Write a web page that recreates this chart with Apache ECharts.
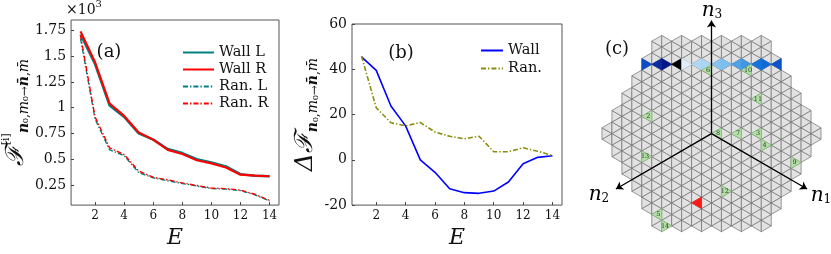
<!DOCTYPE html>
<html><head><meta charset="utf-8">
<script src="https://cdn.jsdelivr.net/npm/echarts@6/dist/echarts.min.js"></script>
<style>html,body{margin:0;padding:0;background:#fff}#c{width:831px;height:254px}</style>
</head><body><div id="c"></div>
<script>
// ---------- data ----------
const energies = [1,2,3,4,5,6,7,8,9,10,11,12,13,14];
const xTickValues = [2,4,6,8,10,12,14];
const yTicksA = [0.25,0.5,0.75,1,1.25,1.5,1.75];   // x10^3
const wallL = [1.71,1.42,1.02,0.91,0.75,0.69,0.60,0.56,0.50,0.47,0.43,0.355,0.34,0.335];
const wallR = [1.74,1.44,1.04,0.92,0.76,0.69,0.59,0.55,0.49,0.46,0.42,0.35,0.34,0.335];
const ranL  = [1.67,0.89,0.59,0.535,0.37,0.32,0.29,0.265,0.24,0.215,0.21,0.195,0.155,0.095];
const ranR  = [1.70,0.91,0.61,0.545,0.385,0.325,0.30,0.27,0.245,0.22,0.215,0.20,0.16,0.10];
const diffWall = [45.5,39.5,23.8,15,0,-5.5,-12.8,-14.5,-14.8,-13.8,-9.8,-1.7,1.1,1.8];
const diffRan  = [45.8,23,16.4,15,16.5,12.3,10.4,9.3,10.4,3.6,3.6,5.3,3.8,1.9];

// panel (c): triangular lattice (strip index k, centroid row Y)
const latticeColumns = 11;
const wallRowY = 6;
const wallStrips = [-7,-6,-5,-4,-3,-2,-1,0,1,2,3,4,5,6];
const wallLevels = [0.74,0.84,0.9,1.0,0.03,0.2,0.22,0.33,0.36,0.48,0.52,0.62,0.65,0.72];
const finalLabels = ['2','3','4','5','6','7','8','9','10','11','12','13','14'];
const finalStrips = [-7,4,5,-6,-1,2,0,8,3,4,1,-7,-5];
const finalRows   = [1.5,0,-1,-7,5.5,0,0,-2.5,5.5,3,-5,-2,-8];
const initialCell = [-2,-6];
const axisEnds = [[0,9.8],[9.6,-4.8],[-9.6,-4.8]];

// ---------- helpers ----------
const FONT = 'DejaVu Serif';
const S3 = Math.sqrt(3)/2;
function isRight(k, Y){ return (Math.abs(k)%2===1) === Number.isInteger(Y); }
function triPoints(k, Y){
  return isRight(k,Y) ? [[k,Y-0.5],[k,Y+0.5],[k+1,Y]] : [[k+1,Y-0.5],[k+1,Y+0.5],[k,Y]];
}
function centroid(k, Y){ return [k + (isRight(k,Y)?1/3:2/3), Y]; }
const AP = latticeColumns*0.75;
const latticeCells = [];
for (let k=-latticeColumns-1; k<=latticeColumns; k++){
  for (let y2=-20; y2<=20; y2++){
    const Y = y2/2;
    const cx = centroid(k,Y)[0]*S3;
    if (Math.abs(Y) <= AP && S3*Math.abs(cx) + Math.abs(Y)/2 <= AP) latticeCells.push([k,Y]);
  }
}
const stops = [[0,[232,244,251]],[0.2,[176,216,245]],[0.35,[128,192,240]],[0.5,[74,156,230]],
  [0.62,[20,116,220]],[0.72,[12,82,200]],[0.82,[10,48,168]],[0.9,[8,24,130]],[1,[0,0,0]]];
function blues(v){
  for (let i=1;i<stops.length;i++){
    if (v<=stops[i][0]){
      const [a,ca]=stops[i-1],[b,cb]=stops[i]; const t=(v-a)/(b-a);
      const c=ca.map((x,j)=>Math.round(x+(cb[j]-x)*t));
      return 'rgb('+c.join(',')+')';
    }
  }
  return '#000';
}
function polyItem(k,Y,api,fill,stroke,lw){
  return {type:'polygon', shape:{points:triPoints(k,Y).map(p=>api.coord(p))},
          style:{fill:fill, stroke:stroke, lineWidth:lw}};
}
const ser = (name,data,color,width,type,xi)=>({
  name, type:'line', data:energies.map((e,i)=>[e,data[i]]), xAxisIndex:xi, yAxisIndex:xi,
  symbol:'none', lineStyle:{color, width, type}, itemStyle:{color}, z: 3
});
const dashdot = [5,2,1.4,2];

const chart = echarts.init(document.getElementById('c'), null, {renderer:'canvas'});
const axisCommonX = (gi)=>({
  gridIndex:gi, type:'value', min:0.35, max:14.65,
  axisLine:{show:false, onZero:false}, splitLine:{show:false},
  axisTick:{show:true, inside:true, length:3, customValues:xTickValues, lineStyle:{color:'#444'}},
  axisLabel:{customValues:xTickValues, fontFamily:FONT, fontSize:12, color:'#111', margin:5},
  name:'E', nameLocation:'middle', nameGap:21,
  nameTextStyle:{fontFamily:FONT, fontStyle:'italic', fontSize:22, color:'#111'}
});
const subRich = {
  F:{fontFamily:FONT, fontSize:25, fontStyle:'italic', color:'#111', lineHeight:30},
  sp:{fontFamily:FONT, fontSize:11, color:'#111', verticalAlign:'top', lineHeight:30},
  bn:{fontFamily:FONT, fontSize:14, fontStyle:'italic', fontWeight:'bold', color:'#111', verticalAlign:'bottom', lineHeight:30},
  im:{fontFamily:FONT, fontSize:14, fontStyle:'italic', color:'#111', verticalAlign:'bottom', lineHeight:30},
  sb:{fontFamily:FONT, fontSize:12, color:'#111', verticalAlign:'bottom', lineHeight:30}
};
const legendCommon = {orient:'vertical', padding:0,
  itemStyle:{opacity:0, borderWidth:0, color:'rgba(0,0,0,0)'},
  textStyle:{fontFamily:FONT, fontSize:14.5, color:'#111', lineHeight:13}};

const option = {
  animation:false,
  backgroundColor:'#fff',
  grid:[
    {left:69, top:20, width:210, height:198, show:true, borderColor:'#555', borderWidth:1, backgroundColor:'transparent'},
    {left:352, top:24, width:210, height:193, show:true, borderColor:'#555', borderWidth:1, backgroundColor:'transparent'},
    {left:592, top:18.1, width:240, height:230.94, show:false}
  ],
  xAxis:[
    axisCommonX(0), axisCommonX(1),
    {gridIndex:2, type:'value', min:-12, max:12, show:false}
  ],
  yAxis:[
    {gridIndex:0, type:'value', min:0.055, max:1.85,
     axisLine:{show:false, onZero:false}, splitLine:{show:false},
     axisTick:{show:true, inside:true, length:3, customValues:yTicksA, lineStyle:{color:'#444'}},
     axisLabel:{customValues:yTicksA, fontFamily:FONT, fontSize:14, color:'#111', margin:5},
     name:'{F|ℱ}{sp|[i]}{bn|n}{sb|₀,}{im|m}{sb|₀→}{bn|n̄}{sb|,}{im|m̄}', nameLocation:'middle', nameGap:37,
     nameTextStyle:{rich:subRich}},
    {gridIndex:1, type:'value', min:-20, max:60, interval:20,
     axisLine:{show:false, onZero:false}, splitLine:{show:false},
     axisTick:{show:true, inside:true, length:3, lineStyle:{color:'#444'}},
     axisLabel:{fontFamily:FONT, fontSize:14, color:'#111', margin:5},
     name:'{F|Δℱ}{bn|n}{sb|₀,}{im|m}{sb|₀→}{bn|n̄}{sb|,}{im|m̄}', nameLocation:'middle', nameGap:29,
     nameTextStyle:{rich:subRich}},
    {gridIndex:2, type:'value', min:-10, max:10, show:false}
  ],
  legend:[
    Object.assign({}, legendCommon, {data:['Wall L','Wall R','Ran. L','Ran. R'], left:182, top:45,
     itemWidth:31, itemHeight:8, itemGap:2}),
    Object.assign({}, legendCommon, {data:['Wall','Ran.'], left:480, top:43,
     itemWidth:22, itemHeight:8, itemGap:3})
  ],
  graphic:[
    {type:'text', x:66, y:8, style:{text:'{a|×10}{b|3}', verticalAlign:'middle', rich:{
      a:{fontFamily:FONT, fontSize:14, fill:'#111', color:'#111', lineHeight:18, verticalAlign:'bottom'},
      b:{fontFamily:FONT, fontSize:10, fill:'#111', color:'#111', lineHeight:18, verticalAlign:'top'}}}},
    {type:'text', x:109, y:52, style:{text:'(a)', font:'18px "DejaVu Serif"', fill:'#111', align:'center', verticalAlign:'middle'}},
    {type:'text', x:401, y:53, style:{text:'(b)', font:'18px "DejaVu Serif"', fill:'#111', align:'center', verticalAlign:'middle'}},
    {type:'text', x:617, y:49, style:{text:'(c)', font:'18px "DejaVu Serif"', fill:'#111', align:'center', verticalAlign:'middle'}},
    {type:'text', x:712, y:10, z:10, style:{text:'{n|n}{s|3}', align:'center', verticalAlign:'middle', rich:{
      n:{fontFamily:FONT, fontStyle:'italic', fontSize:20, color:'#111', lineHeight:22, verticalAlign:'bottom'},
      s:{fontFamily:FONT, fontSize:12, color:'#111', lineHeight:22, verticalAlign:'bottom'}}}},
    {type:'text', x:821, y:195, z:10, style:{text:'{n|n}{s|1}', align:'center', verticalAlign:'middle', rich:{
      n:{fontFamily:FONT, fontStyle:'italic', fontSize:20, color:'#111', lineHeight:22, verticalAlign:'bottom'},
      s:{fontFamily:FONT, fontSize:12, color:'#111', lineHeight:22, verticalAlign:'bottom'}}}},
    {type:'text', x:599, y:194, z:10, style:{text:'{n|n}{s|2}', align:'center', verticalAlign:'middle', rich:{
      n:{fontFamily:FONT, fontStyle:'italic', fontSize:20, color:'#111', lineHeight:22, verticalAlign:'bottom'},
      s:{fontFamily:FONT, fontSize:12, color:'#111', lineHeight:22, verticalAlign:'bottom'}}}}
  ],
  series:[
    ser('Wall L', wallL, '#008080', 2.4, 'solid', 0),
    ser('Wall R', wallR, '#ff0000', 2.2, 'solid', 0),
    ser('Ran. L', ranL, '#008080', 1.4, dashdot, 0),
    ser('Ran. R', ranR, '#ff0000', 1.4, dashdot, 0),
    ser('Wall', diffWall, '#0000ff', 1.6, 'solid', 1),
    ser('Ran.', diffRan, '#8c8c10', 1.6, dashdot, 1),
    {type:'custom', xAxisIndex:2, yAxisIndex:2, silent:true, data:latticeCells, z:2,
     renderItem:(p,api)=>polyItem(api.value(0),api.value(1),api,'#e2e2e2','#707070',0.7)},
    {type:'custom', xAxisIndex:2, yAxisIndex:2, silent:true, z:3,
     data:wallStrips.map((k,i)=>[k,wallRowY,wallLevels[i]]),
     renderItem:(p,api)=>{const c=blues(api.value(2)); return polyItem(api.value(0),api.value(1),api,c,c,0.6);}},
    {type:'custom', xAxisIndex:2, yAxisIndex:2, silent:true, z:3, data:[initialCell],
     renderItem:(p,api)=>polyItem(api.value(0),api.value(1),api,'#ff1a1a','#ff1a1a',0.6)},
    {type:'custom', xAxisIndex:2, yAxisIndex:2, silent:true, z:4,
     data:finalStrips.map((k,i)=>[k,finalRows[i]]),
     renderItem:(p,api)=>{
       const k=api.value(0), Y=api.value(1); const c=api.coord(centroid(k,Y));
       return {type:'group', children:[
         polyItem(k,Y,api,'#b4e0a8','#86c27a',0.7),
         {type:'text', style:{text:finalLabels[p.dataIndex], x:c[0], y:c[1], align:'center', verticalAlign:'middle',
           font:'6.5px "DejaVu Serif"', fill:'#2a3a2a'}}
       ]};
     }},
    {type:'lines', coordinateSystem:'cartesian2d', xAxisIndex:2, yAxisIndex:2, silent:true, z:6,
     symbol:['none','arrow'], symbolSize:7,
     lineStyle:{color:'#000', width:1.3, opacity:1, curveness:0},
     data:axisEnds.map(e=>({coords:[[0,0],e]}))}
  ]
};
chart.setOption(option);
</script></body></html>
